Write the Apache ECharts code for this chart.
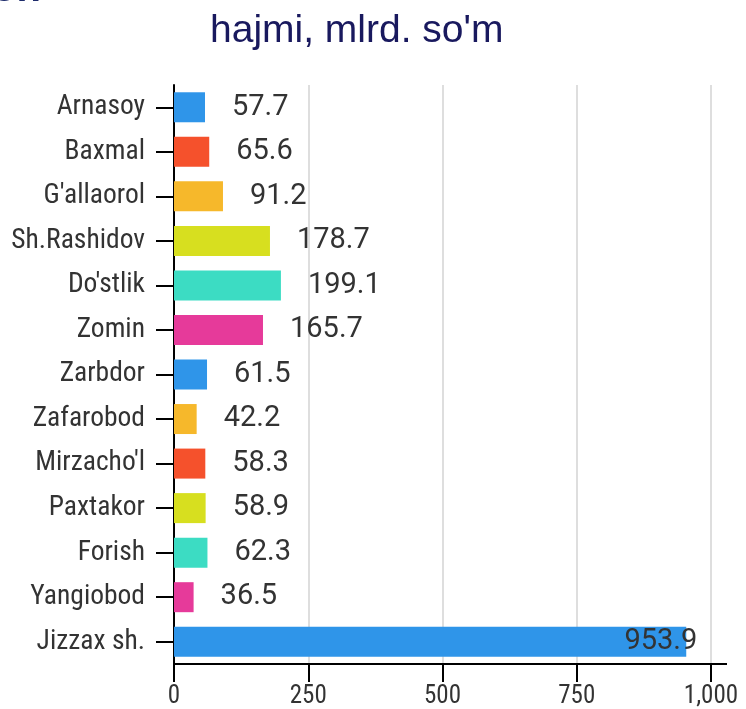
<!DOCTYPE html>
<html>
<head>
<meta charset="utf-8">
<script src="https://cdn.jsdelivr.net/npm/echarts@6/dist/echarts.min.js"></script>
<style>html,body{margin:0;padding:0;background:#fff}#c{width:746px;height:709px}</style>
</head>
<body>
<div id="c"></div>
<script>
const categories = ["Arnasoy","Baxmal","G'allaorol","Sh.Rashidov","Do'stlik","Zomin","Zarbdor","Zafarobod","Mirzacho'l","Paxtakor","Forish","Yangiobod","Jizzax sh."];
const values = [57.7,65.6,91.2,178.7,199.1,165.7,61.5,42.2,58.3,58.9,62.3,36.5,953.9];
const colors = ["#2f95e9","#f5512c","#f6b82b","#d7df1f","#3cdcc3","#e63a9a","#2f95e9","#f6b82b","#f5512c","#d7df1f","#3cdcc3","#e63a9a","#2f95e9"];
const xTicks = [0,250,500,750,1000];
const titleText = "hajmi, mlrd. so'm";

const chart = echarts.init(document.getElementById('c'), null, {renderer:'canvas'});
const data = values.map((v,i)=>{
  const d = {value:v, itemStyle:{color:colors[i]}};
  if (i === values.length-1) d.label = {position:'insideRight', distance:0, offset:[11,0]};
  return d;
});
chart.setOption({
  animation:false,
  title:{text:titleText, left:205, top:7, textStyle:{fontFamily:'Liberation Sans', fontSize:39, fontWeight:'normal', color:'#19195e'}},
  graphic:[{type:'text', left:-8, top:-30, style:{text:'on', font:'bold 40px "Liberation Sans"', fill:'#1d2b6b'}}],
  grid:{left:174, right:35, top:85, bottom:45, containLabel:false},
  xAxis:{type:'value', min:xTicks[0], max:xTicks[xTicks.length-1], interval:xTicks[1]-xTicks[0],
    axisLine:{show:true, lineStyle:{color:'#000', width:2}, symbol:['none','rect'], symbolSize:[2,32], symbolOffset:[0,0]},
    axisTick:{show:true, length:18, lineStyle:{color:'#000', width:2}},
    axisLabel:{margin:20, fontFamily:'Roboto Condensed', fontSize:25, color:'#333',
      formatter:v=>v>=1000? Math.floor(v/1000)+','+String(v%1000).padStart(3,'0') : String(v)},
    splitLine:{show:true, lineStyle:{color:'#dedede', width:2}}
  },
  yAxis:{type:'category', data:categories, inverse:true,
    axisLine:{show:true, lineStyle:{color:'#000', width:2}},
    axisTick:{show:true, length:18, alignWithLabel:true, lineStyle:{color:'#000', width:2}},
    axisLabel:{margin:29, fontFamily:'Roboto Condensed', fontSize:27.5, color:'#333'}
  },
  series:[{type:'bar', data:data, barWidth:30,
    label:{show:true, position:'right', distance:27, fontFamily:'Roboto', fontSize:29, color:'#333',
      formatter:p=>p.value.toFixed(1)}
  }]
});
</script>
</body>
</html>
